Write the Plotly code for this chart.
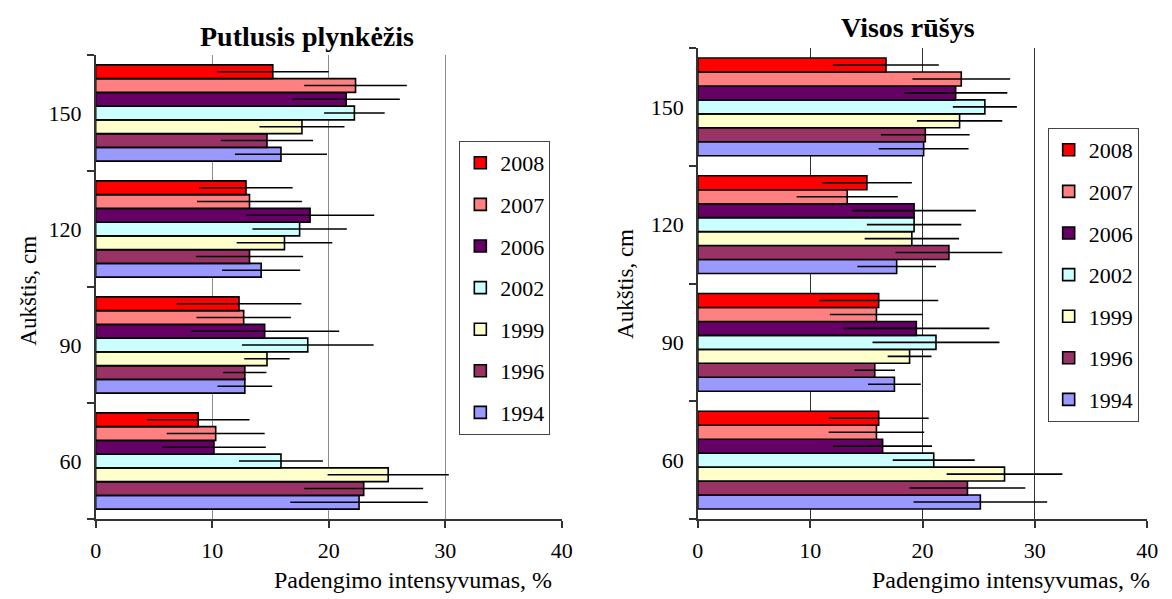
import plotly.graph_objects as go

W, H = 1172, 599

heights = ["60", "90", "120", "150"]
years = ["1994", "1996", "1999", "2002", "2006", "2007", "2008"]
colors = {
    "2008": "#FF0000",
    "2007": "#FF8080",
    "2006": "#660066",
    "2002": "#CCFFFF",
    "1999": "#FFFFCC",
    "1996": "#993366",
    "1994": "#9999FF",
}

# Putlusis plynkėžis: mean cover intensity (%) per height class, 60/90/120/150 cm
putl_2008 = [8.8, 12.3, 12.9, 15.2]
putl_2007 = [10.3, 12.7, 13.2, 22.3]
putl_2006 = [10.15, 14.5, 18.4, 21.5]
putl_2002 = [15.9, 18.2, 17.5, 22.2]
putl_1999 = [25.1, 14.7, 16.2, 17.7]
putl_1996 = [23.0, 12.8, 13.2, 14.7]
putl_1994 = [22.6, 12.8, 14.2, 15.9]

putl_err_2008 = [4.4, 5.35, 4.0, 4.8]
putl_err_2007 = [4.2, 4.05, 4.5, 4.4]
putl_err_2006 = [4.45, 6.4, 5.5, 4.6]
putl_err_2002 = [3.6, 5.65, 4.05, 2.6]
putl_err_1999 = [5.2, 1.95, 4.1, 3.65]
putl_err_1996 = [5.1, 1.85, 4.6, 3.95]
putl_err_1994 = [5.9, 2.35, 3.35, 3.95]

# Visos rūšys
vis_2008 = [16.1, 16.1, 15.05, 16.75]
vis_2007 = [15.9, 15.9, 13.3, 23.45]
vis_2006 = [16.45, 19.45, 19.25, 22.95]
vis_2002 = [21.0, 21.2, 19.25, 25.55]
vis_1999 = [27.3, 18.85, 19.05, 23.3]
vis_1996 = [24.0, 15.75, 22.35, 20.25]
vis_1994 = [25.15, 17.5, 17.7, 20.1]

vis_err_2008 = [4.45, 5.3, 4.0, 4.7]
vis_err_2007 = [4.25, 4.15, 4.5, 4.35]
vis_err_2006 = [4.4, 6.5, 5.5, 4.6]
vis_err_2002 = [3.65, 5.65, 4.2, 2.85]
vis_err_1999 = [5.15, 1.95, 4.2, 3.8]
vis_err_1996 = [5.15, 1.8, 4.75, 3.95]
vis_err_1994 = [5.95, 2.35, 3.5, 4.0]

putl = {"2008": (putl_2008, putl_err_2008), "2007": (putl_2007, putl_err_2007),
        "2006": (putl_2006, putl_err_2006), "2002": (putl_2002, putl_err_2002),
        "1999": (putl_1999, putl_err_1999), "1996": (putl_1996, putl_err_1996),
        "1994": (putl_1994, putl_err_1994)}
vis = {"2008": (vis_2008, vis_err_2008), "2007": (vis_2007, vis_err_2007),
       "2006": (vis_2006, vis_err_2006), "2002": (vis_2002, vis_err_2002),
       "1999": (vis_1999, vis_err_1999), "1996": (vis_1996, vis_err_1996),
       "1994": (vis_1994, vis_err_1994)}

FONT = "Liberation Serif, Times New Roman, serif"

fig = go.Figure()


def add_panel(data, xa, ya, legend_name, suffix):
    # 1994 first so it sits at the bottom of each group; 2008 ends on top
    for yr in years:
        vals, errs = data[yr]
        fig.add_trace(go.Bar(
            x=vals, y=heights, orientation="h", name=yr,
            xaxis=xa, yaxis=ya, legend=legend_name,
            legendgroup=yr + suffix,
            legendrank=3000 - int(yr),
            marker=dict(color=colors[yr], line=dict(color="black", width=1.6)),
            error_x=dict(type="data", array=errs, symmetric=True,
                         color="black", thickness=1.6, width=0),
        ))


add_panel(putl, "x", "y", "legend", "a")
add_panel(vis, "x2", "y2", "legend2", "b")


def px_x(p):
    return p / W


def px_y(p):
    return 1 - p / H


tick_font = dict(family=FONT, size=22, color="black")

xaxis_common = dict(range=[0, 40], dtick=10, tick0=0, showgrid=True,
                    gridwidth=1, zeroline=False, showline=True,
                    linecolor="#333333", linewidth=1.5, ticks="outside",
                    ticklen=7, tickcolor="#333333", tickwidth=1.5,
                    ticklabelstandoff=4, tickfont=tick_font)
yaxis_common = dict(type="category", categoryorder="array",
                    categoryarray=heights, showgrid=False, zeroline=False,
                    showline=True, linecolor="#333333", linewidth=1.5,
                    ticks="outside", ticklen=7, tickcolor="#333333",
                    tickwidth=1.5, tickson="boundaries", ticklabelstandoff=8,
                    tickfont=tick_font)

legend_common = dict(bgcolor="white", bordercolor="#444444", borderwidth=1,
                     traceorder="grouped", tracegroupgap=10,
                     font=dict(family=FONT, size=22, color="black"),
                     xanchor="left", yanchor="top", itemclick=False)

fig.update_layout(
    width=W, height=H,
    margin=dict(l=0, r=0, t=0, b=0),
    paper_bgcolor="white", plot_bgcolor="white",
    barmode="group", bargap=0.17, bargroupgap=0,
    font=dict(family=FONT, color="black"),
    xaxis=dict(domain=[px_x(91), px_x(564)], anchor="y",
               gridcolor="#8c8c8c", **xaxis_common),
    yaxis=dict(domain=[px_y(519), px_y(55)], anchor="x", **yaxis_common),
    xaxis2=dict(domain=[px_x(702), px_x(1158)], anchor="y2",
                gridcolor="#303030", **xaxis_common),
    yaxis2=dict(domain=[px_y(519), px_y(48)], anchor="x2", **yaxis_common),
    legend=dict(x=px_x(460), y=px_y(141), **legend_common),
    legend2=dict(x=px_x(1057), y=px_y(128), **legend_common),
    showlegend=True,
)

annotations = [
    dict(text="<b>Putlusis plynkėžis</b>", x=px_x(305), y=px_y(37),
         font=dict(family=FONT, size=28)),
    dict(text="<b>Visos rūšys</b>", x=px_x(915), y=px_y(27),
         font=dict(family=FONT, size=28)),
    dict(text="Padengimo intensyvumas, %", x=px_x(556), y=px_y(580),
         xanchor="right", font=dict(family=FONT, size=24)),
    dict(text="Padengimo intensyvumas, %", x=px_x(1163), y=px_y(580),
         xanchor="right", font=dict(family=FONT, size=24)),
    dict(text="Aukštis, cm", x=px_x(22), y=px_y(291), textangle=-90,
         font=dict(family=FONT, size=23)),
    dict(text="Aukštis, cm", x=px_x(628), y=px_y(284), textangle=-90,
         font=dict(family=FONT, size=23)),
]
for a in annotations:
    a.setdefault("xanchor", "center")
    a.update(xref="paper", yref="paper", yanchor="middle", showarrow=False)
    a["font"]["color"] = "black"
fig.update_layout(annotations=annotations)

fig.write_html("out.html")
